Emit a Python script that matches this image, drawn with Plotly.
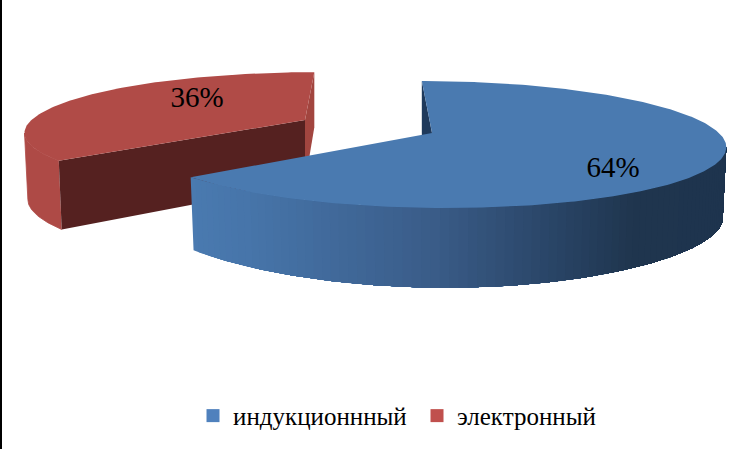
import numpy as np
import plotly.graph_objects as go

# Data
categories = ["индукционнный", "электронный"]
values = [64, 36]
legend_colors = ["#4F81BD", "#C0504D"]
top_colors = ["#4A7AB0", "#B04B47"]

W, H = 751, 449
K = 0.181
K_LOW = 0.30


def disc(apex, rx, ry, skew, theta):
    """Perspective projection of a unit-disc point at clockwise angle theta from top."""
    X, Y = np.sin(theta), np.cos(theta)
    w = 1 + K * Y
    return apex[0] + (rx * X + skew * Y) / w, apex[1] - ry * Y / w


def lower(apex, y0, ry, x, theta):
    """Matching point on the bottom disc of the slice."""
    Y = np.cos(theta)
    return apex[0] + (x - apex[0]) * 0.988, y0 - ry * Y / (1 + K_LOW * Y)


def mix(a, b, t):
    a = np.array([int(a[i:i + 2], 16) for i in (1, 3, 5)], float)
    b = np.array([int(b[i:i + 2], 16) for i in (1, 3, 5)], float)
    c = a + (b - a) * t
    return "rgb(%d,%d,%d)" % tuple(c)


fig = go.Figure()


def poly(x, y, color, line=0.0):
    fig.add_trace(go.Scatter(
        x=list(x), y=list(y), mode="lines", fill="toself", fillcolor=color,
        line=dict(color=color, width=line), hoverinfo="skip", showlegend=False))


total = sum(values)
cut = 2 * np.pi * values[0] / total  # boundary between the two slices

# ---- Red slice (drawn first, sits behind)
A = (305, 120)
th = np.linspace(cut, 2 * np.pi, 160)
xt, yt = disc(A, 273.6, 56.5, 11, th)
xb, yb = lower(A, 187, 54, xt, th)
# rim, up to the leftmost point of the slice
n = int(np.argmin(xt)) + 1
poly(np.r_[xt[:n], xb[:n][::-1]], np.r_[yt[:n], yb[:n][::-1]], "#AE4A46", 0.8)
# cut faces
poly([A[0], xt[0], xb[0], A[0]], [A[1], yt[0], yb[0], 183], "#552120")
poly([A[0], xt[-1], xt[-1], A[0]], [A[1], yt[-1], yt[-1] + 55, 183], "#A2453F")
# top
poly(np.r_[A[0], xt], np.r_[A[1], yt], top_colors[1])

# ---- Blue slice
A = (432, 133)
th = np.linspace(0, cut, 300)
xt, yt = disc(A, 287, 61.4, -12, th)
xb, yb = lower(A, 204, 58.6, xt, th)
# sliver cut face at the start of the slice
poly([A[0], xt[0], xt[0], A[0]], [A[1], yt[0], yt[0] + 60, 200], "#1F3A5C")
# rim with horizontal gradient, painted left to right so that no seams show
imax = int(np.argmax(xt))
idx = np.arange(imax, len(th))[::-1]
xl, xr = xt[-1], xt[imax]
stops = [(0.0, "#4A7AB0"), (0.10, "#4775AA"), (0.45, "#3A5C88"), (0.72, "#26405F"), (0.82, "#20364F"), (1.0, "#1E344E")]
for s in range(0, len(idx) - 2, 2):
    i = idx[s:]
    t = (xt[i[0]] - xl) / (xr - xl)
    for (t0, c0), (t1, c1) in zip(stops, stops[1:]):
        if t0 <= t <= t1:
            col = mix(c0, c1, (t - t0) / (t1 - t0))
            break
    poly(np.r_[xt[i], xb[i][::-1]], np.r_[yt[i], yb[i][::-1]], col)
# top
poly(np.r_[A[0], xt], np.r_[A[1], yt], top_colors[0])

# ---- Percent labels
fig.add_trace(go.Scatter(
    x=[613, 197], y=[170, 100], mode="text", text=[f"{v}%" for v in values],
    textfont=dict(family="Liberation Serif", size=29, color="#000000"),
    hoverinfo="skip", showlegend=False))

# ---- Legend entries
for name, col in zip(categories, legend_colors):
    fig.add_trace(go.Scatter(
        x=[None], y=[None], mode="markers", name=name,
        marker=dict(symbol="square", size=13, color=col)))

fig.update_layout(
    width=W, height=H, margin=dict(l=0, r=0, t=0, b=0),
    paper_bgcolor="white", plot_bgcolor="white",
    xaxis=dict(range=[0, W], visible=False, fixedrange=True),
    yaxis=dict(range=[H, 0], visible=False, fixedrange=True),
    legend=dict(orientation="h", x=0.257, y=0.125, xanchor="left", yanchor="top",
                font=dict(family="Liberation Serif", size=25, color="#000000"),
                itemwidth=30, entrywidth=179, entrywidthmode="pixels",
                bgcolor="rgba(0,0,0,0)"),
    shapes=[dict(type="rect", xref="paper", yref="paper", x0=0, x1=2 / W, y0=0, y1=1,
                 fillcolor="#000000", line_width=0)],
)
fig.write_html("out.html", config=dict(displayModeBar=False),
               post_script="document.body.style.margin='0';document.documentElement.style.overflow='hidden';")
